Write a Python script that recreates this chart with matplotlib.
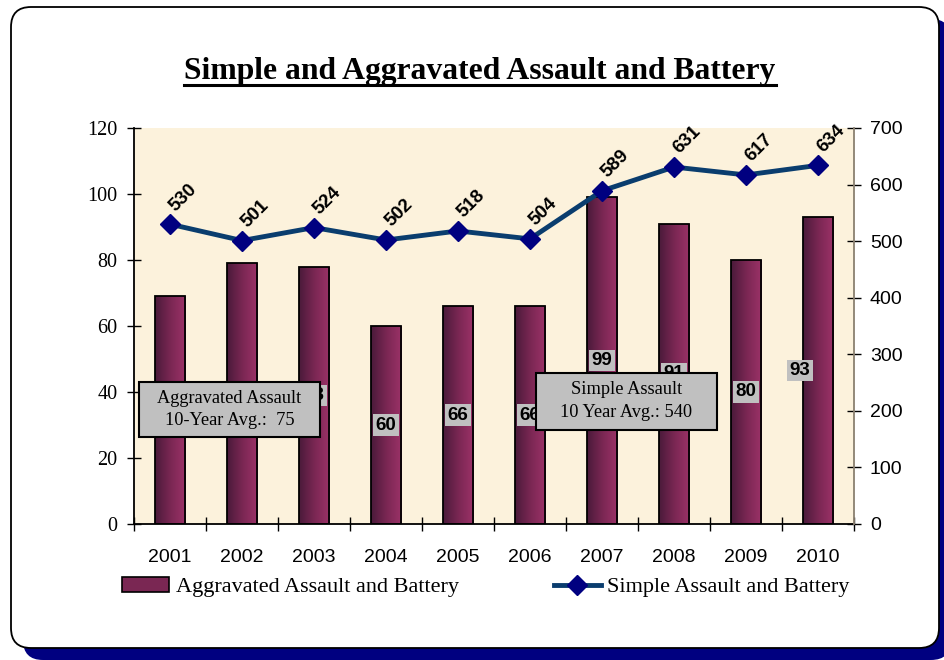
import numpy as np
import matplotlib
matplotlib.use('Agg')
import matplotlib.pyplot as plt
from matplotlib.patches import FancyBboxPatch, Rectangle, Patch
from matplotlib.lines import Line2D
from matplotlib.colors import LinearSegmentedColormap
from matplotlib.transforms import IdentityTransform

# data
years = ['2001', '2002', '2003', '2004', '2005', '2006', '2007', '2008', '2009', '2010']
aggravated = [69, 79, 78, 60, 66, 66, 99, 91, 80, 93]
simple = [530, 501, 524, 502, 518, 504, 589, 631, 617, 634]

SERIF = 'Liberation Serif'
SANS = 'Liberation Sans'

fig = plt.figure(figsize=(9.44, 6.6), dpi=100)
fig.patch.set_facecolor('white')

# rounded frame with navy drop shadow (pixel coordinates)
shadow = FancyBboxPatch((23, 0), 928, 641, boxstyle='round,pad=0,rounding_size=20',
                        transform=IdentityTransform(), fc='#000080', ec='none', zorder=-3)
frame = FancyBboxPatch((11, 12), 928, 641, boxstyle='round,pad=0,rounding_size=20',
                       transform=IdentityTransform(), fc='white', ec='black', lw=1.3, zorder=-2)
fig.add_artist(shadow)
fig.add_artist(frame)

ax = fig.add_axes([134 / 944, 136 / 660, 720 / 944, 396 / 660])
ax.set_facecolor('#FCF2DC')
x = np.arange(len(years))

# bars with a dark-to-plum horizontal gradient
cmap = LinearSegmentedColormap.from_list('plum', ['#4A1A3A', '#7A2753', '#9C3268'])
grad = np.linspace(0, 1, 256).reshape(1, -1)
bars = ax.bar(x, aggravated, width=0.42, color='none', edgecolor='black', linewidth=1.3, zorder=3)
for b in bars:
    im = ax.imshow(grad, extent=[b.get_x(), b.get_x() + b.get_width(), 0, b.get_height()],
                   aspect='auto', cmap=cmap, zorder=2)
    im.set_clip_path(b)

for i, v in enumerate(aggravated):
    dx = -0.25 if i == len(years) - 1 else 0
    ax.text(x[i] + dx, v / 2, str(v), ha='center', va='center', fontsize=13.5,
            fontweight='bold', family=SANS, zorder=4,
            bbox=dict(boxstyle='square,pad=0.12', fc='#C0C0C0', ec='none'))

ax.set_xlim(-0.5, len(years) - 0.5)
ax.set_ylim(0, 120)
ax.set_yticks(range(0, 121, 20))
ax.set_xticks(np.arange(-0.5, len(years), 1))
ax.set_xticklabels([])
ax.set_xticks(x, minor=True)
ax.set_xticklabels(years, minor=True, family=SANS, fontsize=14)
ax.tick_params(axis='x', which='major', direction='inout', length=10, width=1)
ax.tick_params(axis='x', which='minor', length=0, pad=18)
ax.tick_params(axis='y', direction='inout', length=10, width=1, pad=7, labelsize=14.5)
for lab in ax.get_yticklabels():
    lab.set_family(SERIF)
for s in ['top', 'right']:
    ax.spines[s].set_visible(False)
ax.spines['left'].set_linewidth(1.3)
ax.spines['bottom'].set_linewidth(1.3)

# line on the secondary axis
ax2 = ax.twinx()
ax2.set_ylim(0, 700)
ax2.set_yticks(range(0, 701, 100))
ax2.plot(x, simple, color='#0A3D6E', lw=3.5, marker='D', ms=10,
         mfc='#000080', mec='#000080', zorder=5)
for i, v in enumerate(simple):
    ax2.annotate(str(v), (x[i], v), xytext=(6, 7), textcoords='offset points',
                 rotation=45, rotation_mode='anchor', ha='left', va='bottom',
                 fontsize=13.5, fontweight='bold', family=SANS, zorder=6)
ax2.tick_params(axis='y', direction='inout', length=10, width=1, pad=6.5, labelsize=14)
for lab in ax2.get_yticklabels():
    lab.set_family(SANS)
for s in ['top', 'left', 'bottom']:
    ax2.spines[s].set_visible(False)
ax2.spines['right'].set_color('#8A8070')
ax2.spines['right'].set_linewidth(1.3)

# average boxes
boxes = [((-0.43, 26.4), 2.51, 16.6, 'Aggravated Assault\n10-Year Avg.:  75'),
         ((5.08, 28.5), 2.52, 17.3, 'Simple Assault\n10 Year Avg.: 540')]
for (bx, by), w, h, txt in boxes:
    ax2.add_patch(Rectangle((bx, by), w, h, transform=ax.transData, fc='#C0C0C0',
                            ec='black', lw=1.5, zorder=7))
    ax2.text(bx + w / 2, by + h / 2, txt, transform=ax.transData, ha='center', va='center',
             multialignment='center', fontsize=13.2, family=SERIF, linespacing=1.45, zorder=8)

# title with underline
title = fig.text(480 / 944, 1 - 79 / 660, 'Simple and Aggravated Assault and Battery',
                 ha='center', va='baseline', fontsize=22.8, fontweight='bold', family=SERIF)
fig.canvas.draw()
bb = title.get_window_extent()
fig.add_artist(Line2D([bb.x0, bb.x1], [660 - 84.5, 660 - 84.5], transform=IdentityTransform(),
                      color='black', lw=2.2))

# legend
handles = [Patch(fc='#7A2753', ec='black', lw=1.2),
           Line2D([], [], color='#0A3D6E', lw=3.5, marker='D', ms=10, mfc='#000080', mec='#000080')]
fig.legend(handles, ['Aggravated Assault and Battery', 'Simple Assault and Battery'],
           loc='center', bbox_to_anchor=(486 / 944, 1 - 587 / 660), ncol=2, frameon=False,
           prop={'family': SERIF, 'size': 16}, handlelength=2.1, handletextpad=0.3,
           columnspacing=4.3)

fig.savefig('out.png', dpi=100)
